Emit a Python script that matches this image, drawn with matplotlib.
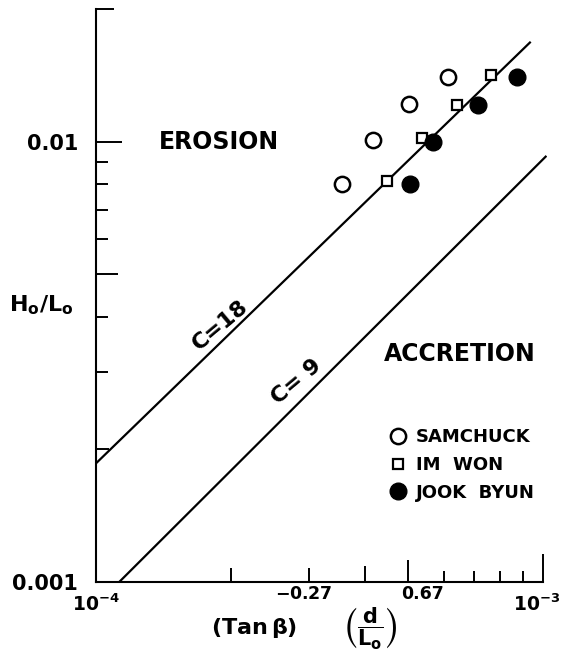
import matplotlib
matplotlib.use("Agg")
import matplotlib.pyplot as plt
import matplotlib.transforms as mtransforms
from matplotlib.ticker import FixedLocator, FixedFormatter, NullFormatter

plt.rcParams['font.family'] = 'DejaVu Sans'
plt.rcParams['font.weight'] = 'bold'
plt.rcParams['mathtext.fontset'] = 'dejavusans'
plt.rcParams['mathtext.default'] = 'bf'

# data
samchuck_x = [3.56e-4, 4.17e-4, 5.02e-4, 6.12e-4]
samchuck_y = [0.0080, 0.0101, 0.0122, 0.0140]
imwon_x = [4.47e-4, 5.36e-4, 6.41e-4, 7.64e-4]
imwon_y = [0.00815, 0.0102, 0.0121, 0.0142]
jook_x = [5.04e-4, 5.68e-4, 7.15e-4, 8.76e-4]
jook_y = [0.0080, 0.0100, 0.0121, 0.0140]

# C lines (end points)
c18_x = [1.0e-4, 9.35e-4]
c18_y = [1.86e-3, 1.68e-2]
c9_x = [1.127e-4, 1.014e-3]
c9_y = [1.0e-3, 9.25e-3]

x_major = [1e-4, 1e-3]
x_major_labels = [r'$10^{-4}$', r'$10^{-3}$']
x_minor = [2e-4, 3e-4, 4e-4, 5e-4, 6e-4, 7e-4, 8e-4, 9e-4]
x_minor_len = [10, 10, 11.5, 16, 8, 8, 8, 8]
y_major = [1e-3, 1e-2]
y_major_labels = ['0.001', '0.01']
y_minor = [2e-3, 3e-3, 4e-3, 5e-3, 6e-3, 7e-3, 8e-3, 9e-3, 2e-2]
y_minor_len = [9.5, 8.5, 8.5, 16, 8.5, 8.5, 8.5, 8.5, 13]

fig = plt.figure(figsize=(5.64, 6.54), dpi=100)
ax = fig.add_axes([96 / 564, 72 / 654, 450.8 / 564, 572.8 / 654])
ax.set_xscale('log')
ax.set_yscale('log')
ax.set_xlim(1e-4, 1.02e-3)
ax.set_ylim(1e-3, 2e-2)

ax.plot(c18_x, c18_y, color='k', lw=1.6, zorder=2)
ax.plot(c9_x, c9_y, color='k', lw=1.6, zorder=2)

ax.plot(samchuck_x, samchuck_y, 'o', ms=11, mfc='white', mec='k', mew=1.8,
        ls='none', label='SAMCHUCK', zorder=3)
ax.plot(imwon_x, imwon_y, 's', ms=7.5, mfc='white', mec='k', mew=1.6,
        ls='none', label='IM  WON', zorder=3)
ax.plot(jook_x, jook_y, 'o', ms=12, mfc='k', mec='k',
        ls='none', label='JOOK  BYUN', zorder=4)

for side in ['top', 'right']:
    ax.spines[side].set_visible(False)
ax.spines['left'].set_linewidth(1.5)
ax.spines['bottom'].set_linewidth(1.5)
ax.spines['bottom'].set_bounds(1e-4, 1e-3)
ax.spines['left'].set_bounds(1e-3, 2e-2)

ax.tick_params(which='both', direction='in', width=1.4, labelsize=15)
ax.tick_params(axis='x', which='major', length=20, pad=8, labelsize=13.5)
ax.tick_params(axis='y', which='major', length=19, pad=13)

ax.xaxis.set_major_locator(FixedLocator(x_major))
ax.xaxis.set_major_formatter(FixedFormatter(x_major_labels))
ax.xaxis.set_minor_locator(FixedLocator(x_minor))
ax.xaxis.set_minor_formatter(NullFormatter())
ax.yaxis.set_major_locator(FixedLocator(y_major))
ax.yaxis.set_major_formatter(FixedFormatter(y_major_labels))
ax.yaxis.set_minor_locator(FixedLocator(y_minor))
ax.yaxis.set_minor_formatter(NullFormatter())

# individual tick lengths
for t, ln in zip(ax.xaxis.get_minor_ticks(len(x_minor)), x_minor_len):
    t.tick1line.set_markersize(ln)
    t.tick1line.set_markeredgewidth(1.4)
for t, ln in zip(ax.yaxis.get_minor_ticks(len(y_minor)), y_minor_len):
    t.tick1line.set_markersize(ln)
    t.tick1line.set_markeredgewidth(1.4)

# keep the 10^-3 label inside the figure
last = ax.xaxis.get_major_ticks(len(x_major))[-1].label1
last.set_transform(last.get_transform() +
                   mtransforms.ScaledTranslation(-6 / 100, 0, fig.dpi_scale_trans))

# x label built from pieces (exponents sit high in the original)
fig.text(254 / 564, 1 - 628 / 654, r'(Tan$\,\beta$)', fontsize=16,
         ha='center', va='center')
fig.text(304 / 564, 1 - 594 / 654, r'$-$0.27', fontsize=12.5,
         ha='center', va='center')
fig.text(370 / 564, 1 - 629 / 654, r'$\left(\dfrac{d}{L_o}\right)$', fontsize=15,
         ha='center', va='center')
fig.text(423 / 564, 1 - 594 / 654, '0.67', fontsize=12.5,
         ha='center', va='center')

ax.set_ylabel(r'$H_o/L_o$', fontsize=16, rotation=0)
ax.yaxis.set_label_coords(-0.122, 0.484)
ax.yaxis.label.set_va('center')
ax.yaxis.label.set_ha('center')

ax.text(1.88e-4, 1e-2, 'EROSION', fontsize=17, fontweight='bold',
        ha='center', va='center')
ax.text(6.52e-4, 3.3e-3, 'ACCRETION', fontsize=17, fontweight='bold',
        ha='center', va='center')

ax.annotate('C=18', xy=(2.0e-4, 3.55e-3), xytext=(-3, 5), textcoords='offset points',
            rotation=40, rotation_mode='anchor', ha='center', va='bottom',
            fontsize=16, fontweight='bold')
ax.annotate('C= 9', xy=(2.97e-4, 2.64e-3), xytext=(-3, 5), textcoords='offset points',
            rotation=40, rotation_mode='anchor', ha='center', va='bottom',
            fontsize=16, fontweight='bold')

ax.legend(loc='upper left', bbox_to_anchor=(0.650, 0.269), frameon=False,
          fontsize=13, handlelength=1.0, handletextpad=0.5, borderpad=0,
          borderaxespad=0, labelspacing=0.55, numpoints=1)

plt.savefig('out.png', dpi=100)
